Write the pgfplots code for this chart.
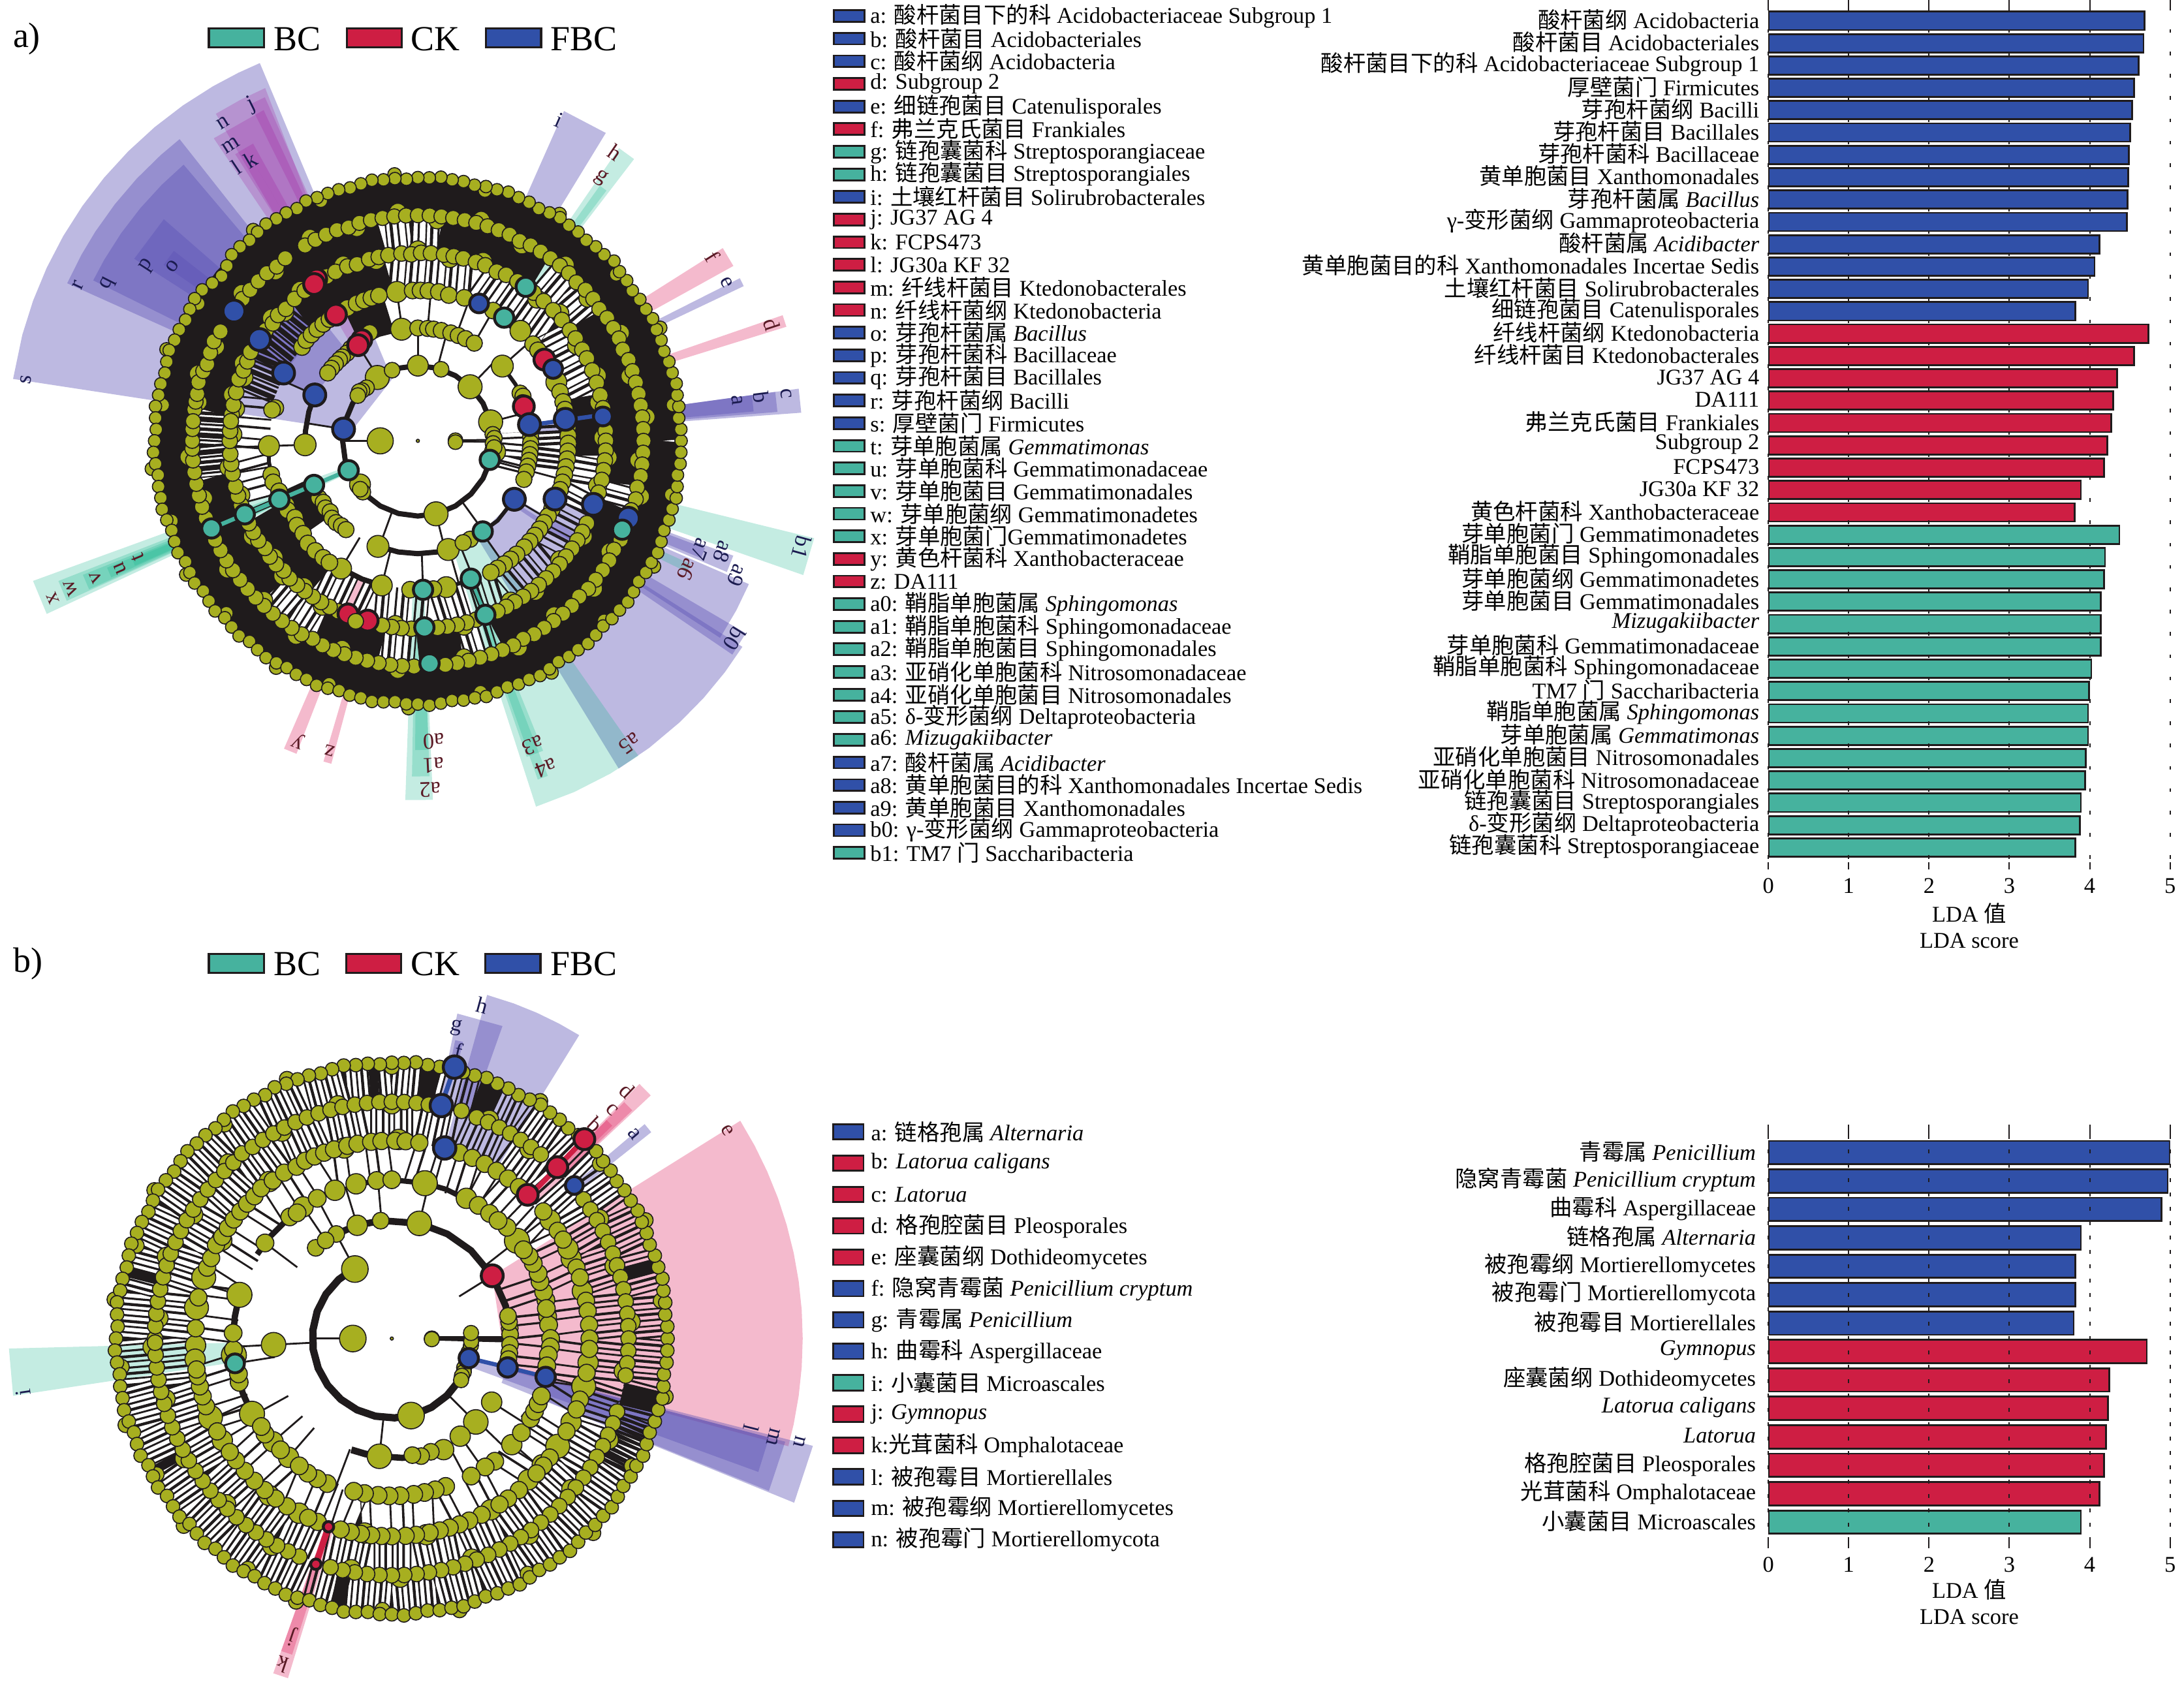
\documentclass[border=0pt]{standalone}
\usepackage{fontspec}
\setmainfont{Liberation Serif}
\newfontfamily\cjk{Noto Sans CJK SC}
\usepackage{pgfplots}
\usepackage{pgfplotstable}
\pgfplotsset{compat=1.18}

\definecolor{bcgreen}{HTML}{46B29E}
\definecolor{ckred}{HTML}{CE1E43}
\definecolor{fbcblue}{HTML}{3050A8}
\definecolor{olivenode}{HTML}{A7AF20}
\definecolor{darkline}{HTML}{1F1B1C}
\definecolor{fanB}{HTML}{5A50B4}
\definecolor{fanR}{HTML}{DC1C5A}
\definecolor{fanT}{HTML}{13B38B}
\definecolor{fanP}{HTML}{A020A0}
\definecolor{labR}{HTML}{5A1A25}
\definecolor{labB}{HTML}{1B1B50}

\newcommand\zh[1]{{\cjk #1}}
\newcommand\fs{\fontsize{8.6}{10}\selectfont}

% LDA bars, panel a
\pgfplotstableread{
idx val
0 4.68
1 4.67
2 4.61
3 4.55
4 4.53
5 4.50
6 4.49
7 4.48
8 4.47
9 4.46
10 4.12
11 4.06
12 3.98
13 3.82
}\barsAblue
\pgfplotstableread{
idx val
14 4.73
15 4.55
16 4.34
17 4.29
18 4.27
19 4.22
20 4.18
21 3.89
22 3.81
}\barsAred
\pgfplotstableread{
idx val
23 4.37
24 4.19
25 4.18
26 4.14
27 4.14
28 4.14
29 4.02
30 3.99
31 3.98
32 3.98
33 3.95
34 3.94
35 3.89
36 3.88
37 3.82
}\barsAgreen
% LDA bars, panel b
\pgfplotstableread{
idx val
0 5.00
1 4.97
2 4.89
3 3.89
4 3.82
5 3.82
6 3.80
}\barsBblue
\pgfplotstableread{
idx val
7 4.71
8 4.24
9 4.23
10 4.20
11 4.18
12 4.12
}\barsBred
\pgfplotstableread{
idx val
13 3.89
}\barsBgreen

\pgfplotsset{
  lda/.style={
    scale only axis, anchor=north west, xmin=0, xmax=5, y dir=reverse,
    xbar, bar shift=0pt, axis on top,
    axis line style={draw=none},
    xtick={0,1,2,3,4,5}, xtick pos=both, xticklabel pos=bottom, tick align=outside,
    major tick length=2.7pt,
    xtick style={draw=darkline,line width=.5pt,solid},
    ytick style={draw=none},
    xmajorgrids,
    /pgf/number format/assume math mode=true,
    tick label style={font=\fs},
    y tick label style={inner sep=0pt,xshift=-.6pt,yshift=.4pt},
    label style={font=\fs,align=center},
  },
  ldabar/.style={draw=darkline,line width=.7pt,fill=#1},
  clad/.style={
    hide axis, scale only axis, clip=false, anchor=center,
    width=352.1pt, height=352.1pt, xmin=-330, xmax=330, ymin=-330, ymax=330,
    every axis plot/.append style={data cs=polar},
  },
  fB/.style={draw=none,fill=fanB,fill opacity=.4},
  fR/.style={draw=none,fill=fanR,fill opacity=.3},
  fT/.style={draw=none,fill=fanT,fill opacity=.25},
  fP/.style={draw=none,fill=fanP,fill opacity=.25},
  solidband/.style={draw=darkline,line width=14.4pt},
  denseband/.style={draw=darkline,line width=14.4pt,dash pattern=on 1.3pt off .7pt on 2pt off .5pt on .8pt off .8pt},
  sparseband/.style={draw=darkline,line width=14.4pt,dash pattern=on .8pt off 1.6pt on 1.2pt off 1.2pt on .6pt off 2.2pt},
  thinband/.style={draw=darkline,line width=14.4pt,dash pattern=on .7pt off 2.6pt on .9pt off 3.6pt},
}
% filled wedge
\newcommand\fan[5]{\addplot[#1] coordinates {(#2,#5)(#3,#5)(#3,#4)(#2,#4)};}
% one branch
\newcommand\spk[3]{\addplot[draw=darkline,line width=.7pt] coordinates {(#1,#2)(#1,#3)};}
% olive nodes
\newcommand\nodes[2]{\addplot[only marks,mark=*,mark size=#1,mark options={fill=olivenode,draw=darkline,line width=.4pt}] coordinates {#2};}
% biomarker nodes
\newcommand\hit[3]{\addplot[only marks,mark=*,mark size=#2,mark options={fill=#1,draw=darkline,line width=1.1pt}] coordinates {#3};}
% rotated letter
\newcommand\lab[4][black]{\node[font=\fs,text=#1,rotate={#2-90},inner sep=0pt] at ([shift={(#2:{#3*0.53348pt})}]axis cs:0,0) {#4};}

\begin{document}
\begin{tikzpicture}
\useasboundingbox (0,0) rectangle (836.5pt,-644.75pt);

%%% cladogram a
\begin{axis}[clad,at={(160.04pt,-168.85pt)}]
\addplot[fB] coordinates {(112.7,294)(116,294)(120,294)(125,294)(130,294)(135,294)(140,294)(145,294)(150,294)(155,294)(160,294)(165,294)(171.3,294)(171.3,48)(112.7,48)};
\addplot[fB] coordinates {(128.3,276)(132,276)(137,276)(142,276)(147,276)(151,276)(155.8,276)(155.8,81)(128.3,81)};
\addplot[fB] coordinates {(130.3,260)(135,260)(140,260)(145,260)(150,260)(153.7,260)(153.7,108)(130.3,108)};
\fan{fB}{138.9}{147.3}{135}{242}
\fan{fB}{142.1}{145.3}{162}{222}
\addplot[fP] coordinates {(113.4,276)(117.5,276)(121.7,276)(125,81)(119,81)};
\fan{fP}{115}{124}{108}{262}
\fan{fP}{114}{116.5}{108}{270}
\fan{fP}{120.5}{122.5}{135}{244}
\fan{fP}{119}{120.5}{135}{244}
\fan{fB}{58.6}{66.1}{135}{259}
\fan{fT}{52.5}{55.5}{135}{255}
\fan{fT}{53}{54.5}{162}{225}
\fan{fR}{29}{32.3}{162}{259}
\fan{fB}{25.4}{26.8}{162}{259}
\fan{fR}{17.2}{19}{189}{277}
\fan{fB}{4.2}{7.8}{81}{276}
\fan{fB}{4.6}{7.8}{108}{259}
\fan{fB}{5}{7.8}{135}{242}
\fan{fT}{-19.2}{-13.8}{162}{293}
\addplot[fB] coordinates {(-23.4,259)(-28,259)(-33.1,259)(-33.1,108)(-23.4,108)};
\fan{fB}{-34.2}{-30.4}{81}{273}
\addplot[fB] coordinates {(-32.4,276)(-37,276)(-42,276)(-47,276)(-53,276)(-58.5,276)(-58.5,81)(-32.4,81)};
\addplot[fT] coordinates {(-55,276)(-60,276)(-66,276)(-72.1,276)(-72.1,81)(-55,81)};
\fan{fT}{-70.5}{-68.8}{108}{258}
\fan{fT}{-71}{-68}{135}{240}
\fan{fT}{-92}{-87.6}{108}{258}
\fan{fT}{-91}{-88}{135}{241}
\fan{fT}{-90.5}{-88}{162}{222}
\fan{fR}{-106.4}{-105}{189}{240}
\fan{fR}{-113.5}{-111.2}{108}{241}
\fan{fB}{-23}{-20}{135}{241}
\fan{fB}{-22.5}{-20.5}{162}{220}
\fan{fT}{-26}{-24.3}{162}{215}
\fan{fT}{-160}{-155}{54}{294}
\fan{fT}{-158.7}{-155.5}{81}{277}
\fan{fT}{-158.2}{-155.7}{108}{259}
\fan{fT}{-157.8}{-156}{135}{241}
\fan{fT}{-157.5}{-156.2}{162}{222}

% dense rings of branches
\addplot[solidband] coordinates {(0,175.5)(10,175.5)(20,175.5)(30,175.5)(40,175.5)(50,175.5)(60,175.5)(70,175.5)(80,175.5)(90,175.5)(100,175.5)(110,175.5)(120,175.5)(130,175.5)(140,175.5)(150,175.5)(160,175.5)(170,175.5)(180,175.5)(190,175.5)(200,175.5)(210,175.5)(220,175.5)(230,175.5)(240,175.5)(250,175.5)(260,175.5)(270,175.5)(280,175.5)(290,175.5)(300,175.5)(310,175.5)(320,175.5)(330,175.5)(340,175.5)(350,175.5)(360,175.5)};
\addplot[solidband] coordinates {(54,148.5)(64,148.5)(74,148.5)(84,148.5)};
\addplot[solidband] coordinates {(100,148.5)(112,148.5)(124,148.5)(136,148.5)(148,148.5)(160,148.5)(172,148.5)};
\addplot[solidband] coordinates {(190,148.5)(202,148.5)(214,148.5)(226,148.5)};
\addplot[solidband] coordinates {(242,148.5)(251,148.5)(260,148.5)};
\addplot[solidband] coordinates {(270,148.5)(282,148.5)};
\addplot[solidband] coordinates {(292,148.5)(304,148.5)(316,148.5)(330,148.5)(342,148.5)};
\addplot[solidband] coordinates {(348,148.5)(360,148.5)(372,148.5)(384,148.5)(396,148.5)};
\addplot[sparseband] coordinates {(36,148.5)(45,148.5)(54,148.5)};
\addplot[sparseband] coordinates {(84,148.5)(92,148.5)(100,148.5)};
\addplot[denseband] coordinates {(172,148.5)(181,148.5)(190,148.5)};
\addplot[sparseband] coordinates {(226,148.5)(234,148.5)(242,148.5)};
\addplot[sparseband] coordinates {(260,148.5)(270,148.5)};
\addplot[sparseband] coordinates {(282,148.5)(292,148.5)};
\addplot[sparseband] coordinates {(342,148.5)(348,148.5)};
\addplot[solidband] coordinates {(100,121.5)(111,121.5)(122,121.5)(133,121.5)};
\addplot[denseband] coordinates {(133,121.5)(150,121.5)(165,121.5)};
\addplot[thinband] coordinates {(165,121.5)(185,121.5)(205,121.5)};
\addplot[solidband] coordinates {(205,121.5)(215,121.5)(225,121.5)(235,121.5)};
\addplot[sparseband] coordinates {(235,121.5)(255,121.5)(275,121.5)(300,121.5)(320,121.5)(345,121.5)(355,121.5)};
\addplot[solidband] coordinates {(-5,121.5)(5,121.5)(15,121.5)};
\addplot[sparseband] coordinates {(15,121.5)(40,121.5)(70,121.5)(100,121.5)};
\addplot[draw=darkline,line width=14.4pt] coordinates {(103,94.5)(111,94.5)(120,94.5)};
\addplot[draw=darkline,line width=14.4pt] coordinates {(200,94.5)(210,94.5)(220,94.5)};
\addplot[draw=darkline,line width=14.4pt,dash pattern=on 1.2pt off 1pt] coordinates {(-12,94.5)(-2,94.5)(8,94.5)};
\addplot[draw=darkline,line width=14.4pt,dash pattern=on .8pt off 1.6pt] coordinates {(-18,67.5)(-10,67.5)(0,67.5)(5,67.5)};

% thick arcs between siblings
\addplot[draw=darkline,line width=2pt] coordinates {(0,54)(15,54)(30,54)(45,54)(60,54)(75,54)(90,54)(105,54)(120,54)(135,54)(150,54)(165,54)(180,54)(195,54)(210,54)(225,54)(240,54)(255,54)(270,54)(285,54)(300,54)(315,54)(330,54)(345,54)(360,54)};
\addplot[draw=darkline,line width=2pt] coordinates {(156,81)(165,81)(175,81)(182,81)};
\addplot[draw=darkline,line width=2pt] coordinates {(-110.7,81)(-100,81)(-90,81)(-80,81)(-74,81)};
\addplot[draw=darkline,line width=2pt] coordinates {(-121,107)(-112,107)(-104,107)};
\addplot[draw=darkline,line width=1.5pt] coordinates {(-54,80)(-45,81)(-31,81)};
\addplot[draw=darkline,line width=1.5pt] coordinates {(-79,107)(-69,107)};
\addplot[draw=darkline,line width=1.5pt] coordinates {(98,81)(110,81)(122,81)};
\addplot[draw=darkline,line width=1.5pt] coordinates {(41.5,81)(30,81)(20,81)};
\addplot[draw=darkline,line width=1.5pt] coordinates {(-178,107)(-172,108)(-165,108)};
\addplot[draw=darkline,line width=2.4pt] coordinates {(-157,108)(-157,135)(-157,161)};
\addplot[draw=bcgreen,line width=1.6pt] coordinates {(-157,54)(-157,161)};
\addplot[draw=fbcblue,line width=1.6pt] coordinates {(8,81)(8,134)};
\addplot[draw=darkline,line width=2.4pt] coordinates {(-69,106)(-68.8,134)};
\addplot[draw=bcgreen,line width=1.2pt] coordinates {(-69,106)(-68.8,134)};
\spk{180}{27}{54}\spk{0.8}{27}{60}\spk{-0.8}{27}{60}
\spk{171}{54}{81}\spk{90}{54}{81}\spk{75}{54}{81}\spk{122}{54}{81}\spk{46}{54}{81}
\spk{14.6}{54}{81}\spk{-15}{54}{108}\spk{-76}{54}{81}\spk{-54}{54}{80}\spk{-110}{54}{81}
\spk{156}{81}{108}\spk{-178}{81}{108}\spk{98}{81}{108}\spk{85}{81}{108}\spk{70}{81}{108}
\spk{60}{81}{108}\spk{41.5}{81}{108}\spk{-31}{81}{107}\spk{-74}{81}{107}\spk{-88}{81}{107}
\spk{-121}{81}{107}\spk{-104}{81}{107}\spk{153}{108}{135}\spk{147}{135}{162}\spk{-178}{108}{135}
\spk{-170}{108}{135}\spk{-68}{81}{106}\spk{-55}{81}{108}\spk{-23}{107}{134}\spk{-20}{134}{161}

\nodes{5}{(180,27)}
\nodes{2.8}{(1,27)(-2,27)}
\nodes{4.6}{(122.6,54)(46,54)(14.6,54)(-76,54)}
\nodes{4}{(90,54)(-143,52)(-8,56)}
\nodes{3}{(72,54)(110,54)(134,53)(138,54)(140,55)(143,54)(-137,54)(-140,54)(5,54)(2,55)(-2,54)(-5,55)}
\nodes{4.2}{(-178,81)(-110.7,81)(-74.4,81)(41.5,81)(98.3,81)}
\nodes{3.1}{(90,81)(85,81)(82,81)(78,81)(73,81)(69,81)(65,81)(60,81)(25,81)(23,82)(20,80)(5,81)(2,81)(-1,81)(-4,81)(-7,81)(-10,81)(-13,81)(-16,81)(-20,81)(114,85)(118,83)(126,82)(129,81)(132,81)(134,81)(137,81)(140,81)(143,81)(-150,82)(-147,81)(-144,82)(-141,81)(-138,83)(-135,83)(-132,82)(-129,82)(-62,80)(-66,80)}
\nodes{4}{(-178,107)(-121,107)(-104,107)(-79,107)(98,108)(23,108)(47,108)}
\nodes{3.2}{(167,105)(168,107)(141,107)(138,108)(135,108)(132,108)(129,108)(126,108)(118,108)(114,108)(111,108)(108,108)(105,108)(92,108)(89,108)(86,108)(82,108)(78,107)(72,108)(60,108)(40,108)(37,108)(19,108)(15,108)(12,108)(5,108)(2,108)(-1,108)(-4,108)(-7,108)(-10,108)(-13,108)(-16,108)(-19,108)(-27,108)(-30,108)(-33,108)(-36,108)(-39,108)(-42,108)(-45,108)(-49,108)(-52,108)(-55,108)(-58,108)(-61,108)(-93,107)(-84,107)(-167,108)(-164,108)(-160,106)(-154,105)(-152,106)(-148,104)(-145,106)(-141,106)(-137,108)(-133,108)(-129,108)(-126,108)}
\nodes{3.5}{(170,133)(166,137)(160,133)(156,137)(140,137)(136,133)(128,137)(113,137)(103,133)(90,137)(80,133)(70,137)(50,133)(42,137)(31,133)(20,137)(12,133)(1,133)(-5,137)(-14,133)(-30,137)(-40,133)(-52,137)(-60,133)(-76,137)(-97,133)(-120,137)(-128,133)(-135,137)(-141,133)(-150,137)(-163,133)(-172,137)(178,133)}
\nodes{3}{(172,135)(169,135)(165,135)(161,136)(158,135)(155,135)(152,136)(144,135)(141,134)(138,135)(135,134)(131,135)(127,135)(119,135)(116,135)(112,135)(109,134)(105,135)(102,135)(99,135)(95,135)(92,134)(89,135)(86,135)(82,135)(79,135)(76,135)(72,135)(69,135)(65,134)(62,135)(58,135)(52,135)(48,135)(44,135)(40,135)(36,135)(33,135)(29,135)(26,135)(22,135)(18,135)(14,135)(10,135)(3,135)(0,135)(-3,135)(-6,135)(-9,135)(-12,135)(-16,135)(-26,135)(-29,135)(-32,135)(-35,135)(-38,135)(-41,135)(-44,135)(-47,135)(-50,135)(-53,135)(-56,135)(-59,135)(-62,135)(-65,135)(-72,135)(-75,135)(-78,135)(-81,135)(-84,135)(-92,135)(-95,135)(-98,135)(-101,135)(-108,135)(-115,135)(-118,135)(-121,135)(-124,135)(-127,135)(-130,135)(-133,135)(-136,134)(-139,135)(-142,135)(-145,134)(-148,135)(-151,135)(-154,135)(-160,135)(-163,135)(-166,135)(-170,135)(-173,135)(-176,135)(-180,135)(177,135)(174,135)}
\nodes{3.3}{(170,160)(163,165)(155,160)(140,165)(130,159)(118,165)(106,159)(95,165)(85,159)(74,165)(62,159)(50,165)(40,159)(28,165)(17,159)(6,165)(-5,159)(-14,165)(-30,159)(-40,165)(-52,159)(-64,165)(-78,159)(-95,165)(-110,159)(-122,165)(-134,159)(-146,165)(-165,159)(-176,165)}
\nodes{2.9}{(172,162)(170,162)(168,162)(165,163)(162,162)(160,161)(157,162)(154,163)(151,162)(141,162)(138,162)(135,162)(132,162)(129,161)(126,162)(120,162)(117,162)(114,162)(111,162)(108,161)(105,162)(102,162)(99,162)(96,162)(93,162)(90,162)(87,162)(84,162)(81,162)(78,162)(75,162)(72,162)(69,162)(66,162)(63,161)(60,162)(57,162)(54,162)(51,162)(48,162)(45,161)(42,162)(39,162)(36,161)(33,162)(30,162)(27,162)(24,161)(21,162)(18,162)(15,162)(12,162)(9,162)(6,162)(3,162)(0,162)(-3,162)(-6,162)(-9,162)(-12,161)(-15,162)(-18,161)(-26,162)(-29,161)(-32,162)(-35,162)(-38,162)(-41,162)(-44,161)(-47,162)(-50,162)(-53,162)(-56,162)(-59,162)(-62,161)(-65,162)(-68,162)(-71,162)(-74,162)(-77,162)(-80,162)(-83,162)(-91,162)(-94,162)(-97,162)(-100,162)(-103,162)(-106,162)(-109,162)(-112,162)(-115,162)(-118,161)(-121,162)(-124,162)(-127,162)(-130,162)(-133,162)(-136,162)(-139,162)(-142,162)(-145,162)(-148,162)(-151,162)(-154,162)(-160,162)(-163,162)(-166,162)(-169,162)(-172,162)(-175,162)(-178,162)(180,162)(177,162)(175,162)}
\nodes{2.6}{(8,185)(25,192)(40,186)(58,192)(75,186)(95,192)(112,186)(128,192)(148,186)(160,192)(172,185)(186,192)(198,186)(210,192)(222,185)(238,192)(250,186)(268,192)(284,186)(300,192)(316,186)(332,192)(348,186)}
\nodes{2.4}{(0,189)(2.5,189)(5,188)(7.5,189)(10,189)(12.5,190)(15,189)(17.5,189)(20,188)(22.5,189)(25,189)(27.5,190)(30,189)(32.5,189)(35,188)(37.5,189)(40,189)(42.5,191)(45,189)(47.5,189)(50,188)(52.5,189)(55,189)(57.5,190)(60,189)(62.5,188)(65,189)(67.5,189)(70,190)(72.5,189)(75,189)(77.5,188)(80,189)(82.5,189)(85,190)(87.5,189)(90,189)(92.5,188)(95,189)(97.5,189)(100,190)(102.5,189)(105,188)(107.5,189)(110,189)(112.5,189)(115,190)(117.5,188)(120,189)(122.5,189)(125,190)(127.5,189)(130,188)(132.5,189)(135,189)(137.5,186)(140,184)(142.5,186)(145,189)(147.5,190)(150,189)(152.5,188)(155,189)(157.5,189)(160,190)(162.5,189)(165,188)(167.5,189)(170,189)(172.5,190)(175,189)(177.5,188)(180,189)(182.5,190)(185,189)(187.5,188)(190,189)(192.5,189)(195,190)(197.5,189)(200,188)(202.5,189)(205,190)(207.5,188)(210,189)(212.5,190)(215,188)(217.5,189)(220,190)(222.5,188)(225,189)(227.5,190)(230,188)(232.5,189)(235,190)(237.5,189)(240,188)(242.5,189)(245,189)(247.5,190)(250,189)(252.5,188)(255,189)(257.5,189)(260,190)(262.5,189)(265,188)(267.5,189)(270,189)(272.5,190)(275,189)(277.5,188)(280,189)(282.5,189)(285,190)(287.5,189)(290,188)(292.5,189)(295,189)(297.5,190)(300,189)(302.5,188)(305,189)(307.5,189)(310,190)(312.5,189)(315,188)(317.5,189)(320,189)(322.5,190)(325,189)(327.5,188)(330,189)(332.5,189)(335,190)(337.5,189)(340,188)(342.5,189)(345,189)(347.5,190)(350,189)(352.5,188)(355,189)(357.5,189)}
\nodes{0.6}{(0,0)}

\hit{ckred}{3.8}{(122,137)(119,83)(-112,134)}
\hit{ckred}{4}{(123.5,135)(123,108)(122,81)(32.7,108)(18,80)(-105.6,134)}
\nodes{3}{(-109,137)}
\hit{fbcblue}{3.6}{(28,110)(66,108)(7.5,134)}
\hit{fbcblue}{4.2}{(171,54)(156,81)(153.2,108)(147.4,135)(144.8,161.6)(8.3,81)(8.3,107)(-31.2,81)(-23,107)(-19.9,134)(-20.2,161)}
\hit{bcgreen}{3.7}{(-14.8,53.4)(-157,54)(-157,81)(-157,108)(-157,135)(-157,161)(-54.4,80)(-69,106)(-68.8,134)(-88,107)(-88,134)(-87,160)(-23.5,160)(55,135)(55,108)}

\lab[labB]{171.1}{285}{s}\lab[labB]{155.4}{268.5}{r}\lab[labB]{153.1}{249.5}{q}\lab[labB]{147.1}{231.3}{p}\lab[labB]{144.6}{216.4}{o}
\lab[labB]{121.5}{267.7}{n}\lab[labB]{122.3}{251}{m}\lab[labB]{123.6}{236}{l}\lab[labB]{120.8}{234.7}{k}\lab[labB]{116.3}{269}{j}
\lab[labB]{66.3}{251.7}{i}\lab[labR]{55.6}{251}{h}\lab[labR]{55.2}{230.3}{g}\lab[labR]{32}{249.5}{f}\lab[labB]{27.2}{249.3}{e}\lab[labR]{18.2}{267.3}{d}
\lab[labB]{7.3}{266.6}{c}\lab[labB]{7.2}{248.3}{b}\lab[labB]{7.2}{231.2}{a}\lab[labB]{-15.5}{286}{b1}\lab[labB]{-22.9}{249}{a9}\lab[labB]{-20}{233.2}{a8}
\lab[labB]{-21}{217.4}{a7}\lab[labR]{-25.5}{214.6}{a6}\lab[labB]{-32}{268}{b0}\lab[labR]{-55}{265.4}{a5}\lab[labR]{-68.6}{252.3}{a4}\lab[labR]{-69.3}{233.7}{a3}
\lab[labR]{-88}{250.7}{a2}\lab[labR]{-87.3}{233.3}{a1}\lab[labR]{-87}{216}{a0}\lab[labR]{-105.9}{231.4}{z}\lab[labR]{-111.7}{232}{y}
\lab[labR]{-156.7}{285.5}{x}\lab[labR]{-157}{270.5}{w}\lab[labR]{-157}{251.3}{v}\lab[labR]{-156.9}{232.6}{u}\lab[labR]{-157.4}{217.8}{t}
\end{axis}

%%% cladogram b
\begin{axis}[clad,at={(150.07pt,-512.67pt)}]
\addplot[fR] coordinates {(32,295)(28,295)(24,295)(20,295)(16,295)(12,295)(8,295)(4,295)(0,295)(-4,295)(-8,295)(-12,295)(-15.2,295)(-15.2,85)(32,85)};
\fan{fT}{-178.5}{-171.4}{114}{275}
\addplot[fB] coordinates {(74.5,256)(70,256)(66,256)(62,256)(58.3,256)(58.3,142)(74.5,142)};
\fan{fB}{70.5}{78.6}{171}{238}
\fan{fB}{76.5}{78}{198}{219}
\fan{fR}{43.2}{45.8}{142}{255}
\fan{fR}{43.5}{45.5}{171}{238}
\fan{fR}{44}{45.5}{198}{220}
\fan{fB}{38.5}{40.3}{171}{238}
\fan{fB}{-22.2}{-14.3}{113}{312}
\fan{fB}{-22}{-14.7}{85}{292}
\fan{fB}{-20}{-14.7}{57}{280}
\fan{fR}{-109.5}{-107}{142}{255}
\fan{fR}{-109.5}{-107.5}{171}{238}

% spokes, outer rings
\addplot[draw=darkline,line width=14.9pt,dash pattern=on .8pt off 1.3pt on 1.1pt off 1.1pt on .7pt off 1.5pt] coordinates {(0,184)(10,184)(20,184)(30,184)(40,184)(50,184)(60,184)(70,184)(80,184)(90,184)(100,184)(110,184)(120,184)(130,184)(140,184)(150,184)(160,184)(170,184)(180,184)(190,184)(200,184)(210,184)(220,184)(230,184)(240,184)(250,184)(260,184)(270,184)(280,184)(290,184)(300,184)(310,184)(320,184)(330,184)(340,184)(350,184)(360,184)};
\addplot[draw=darkline,line width=14.9pt,dash pattern=on .8pt off 1.4pt on 1pt off 1.8pt on .7pt off 1.2pt] coordinates {(0,156)(12,156)(24,156)(36,156)(48,156)(60,156)(72,156)(84,156)(96,156)(108,156)(120,156)(132,156)(144,156)(156,156)(168,156)(180,156)(192,156)(204,156)(216,156)(228,156)(240,156)(252,156)(264,156)(276,156)(288,156)(300,156)(312,156)(324,156)(336,156)(348,156)(360,156)};
\addplot[draw=darkline,line width=14.9pt,dash pattern=on .7pt off 2.4pt on .9pt off 3pt on .7pt off 5pt] coordinates {(-15,128)(0,128)(15,128)(35,128)};
\addplot[draw=darkline,line width=14.9pt,dash pattern=on .7pt off 4pt on .9pt off 3pt on .7pt off 7pt] coordinates {(35,128)(60,128)(85,128)(110,128)(135,128)(160,128)(185,128)(210,128)(235,128)(260,128)(285,128)(310,128)(345,128)};
\addplot[draw=darkline,line width=14.9pt,dash pattern=on .8pt off 2.4pt on .9pt off 4pt] coordinates {(-12,99)(0,99)(12,99)(25,99)};
% solid wedges of closely packed branches
\addplot[draw=darkline,line width=14.9pt] coordinates {(93,184)(95,184)};
\addplot[draw=darkline,line width=14.9pt] coordinates {(80,184)(84,184)};
\addplot[draw=darkline,line width=14.9pt] coordinates {(66,184)(71,184)};
\addplot[draw=darkline,line width=14.9pt] coordinates {(-16,184)(-11,184)};
\addplot[draw=darkline,line width=14.9pt] coordinates {(-103,184)(-100,184)};
\addplot[draw=darkline,line width=14.9pt] coordinates {(-152,184)(-150,184)};
\addplot[draw=darkline,line width=14.9pt] coordinates {(165,184)(167,184)};
\addplot[draw=darkline,line width=14.9pt] coordinates {(14,184)(17,184)};
\addplot[draw=darkline,line width=14.9pt,dash pattern=on 1.2pt off .6pt] coordinates {(-30,184)(-25,184)(-18,184)};

% thick arcs
\addplot[draw=darkline,line width=2.8pt] coordinates {(118,57)(132,57)(146,57)(160,57)(174,57)(188,57)(202,57)(216,57)(230,57)(244,57)(258,57)(272,57)(286,57)(300,57)(314,57)(328,57)(346,57)};
\addplot[draw=darkline,line width=2.6pt] coordinates {(5,85)(16,85)(32,85)(48,85)(62,85)(76.6,85)(95,85)(107,85)(118,85)(130,85)};
\addplot[draw=darkline,line width=2.4pt] coordinates {(164,113.8)(172,113.8)(180,114)(189,114)(200,114)(208,114)(220,113)(229,113)};
\addplot[draw=darkline,line width=2.2pt] coordinates {(130,114)(140,114)(148,114)};
\addplot[draw=darkline,line width=2pt] coordinates {(57,114)(70,114)(78,114)(90,114)(103,114)};
\addplot[draw=darkline,line width=1.7pt] coordinates {(162,142)(171,142)(178,141)(186,141)};
\addplot[draw=darkline,line width=2.6pt] coordinates {(-96,85)(-103,85)(-110,85)};
\addplot[draw=darkline,line width=2.4pt] coordinates {(-96,85)(-85,86)(-75,87)(-65,88)};
\addplot[draw=fbcblue,line width=1.6pt] coordinates {(-14.3,57)(-14,85)(-14,114)};
\addplot[draw=ckred,line width=2.4pt] coordinates {(-108.6,142.6)(-108.6,171)};
\addplot[draw=ckred,line width=2pt] coordinates {(46,142)(46,199)};
\addplot[draw=fbcblue,line width=1.8pt] coordinates {(78,171)(77,200)};
\spk{180}{28}{57}\addplot[draw=darkline,line width=1.8pt] coordinates {(0,28)(0,85)};
\spk{-1.5}{28}{85}
\spk{-177}{57}{85}\spk{118}{57}{85}\spk{-96}{57}{85}\spk{-45}{57}{85}\spk{32}{57}{85}
\spk{76.6}{85}{114}\spk{95}{85}{114}\spk{107}{85}{114}\spk{118}{85}{114}\spk{38}{85}{114}\spk{-32.5}{85}{114}
\spk{-44}{85}{115}\spk{-55}{85}{113}\spk{-62}{85}{113}\spk{-14}{114}{142}\spk{74.5}{114}{142}\spk{62}{114}{142}
\spk{-177}{85}{114}\spk{-110.7}{85}{114}\spk{-171}{85}{114}\spk{-151}{85}{114}\spk{-139}{85}{113}\spk{-131}{85}{113}\spk{143}{85}{114}\spk{124}{85}{114}
\spk{164}{114}{142}\spk{-156}{114}{142}\spk{-149}{114}{142}\spk{38}{114}{142}\spk{46}{114}{142}\spk{-41}{115}{142}\spk{-33}{115}{142}\spk{-14}{142}{171}
\spk{-108}{114}{142}\spk{57}{114}{142}

\nodes{5.1}{(180,28)}
\nodes{2.9}{(0,28.7)(-1,28.7)}
\nodes{5.1}{(118,56.5)(-76,57)}
\nodes{2.9}{(-14,55)(-10,56)(-22,56)(-25,57)(-28,57)(-31,58)(-5,57)(-2,57)(4,57)}
\nodes{4.7}{(-177,85)(76.6,85)(-96,85)(-44.8,85)}
\nodes{3.9}{(107,85)(-32.5,85)(-55,85.6)(-65,88)}
\nodes{3.2}{(95.4,85)(118,85)(130,85)(124,85)(-71,86)(-76,87)(-80,85)(5,85)(2,85)(8,85)(11,85)(-3,85)(-7,85)(-10,85)}
\nodes{4.8}{(164,113.8)(-151.7,114)(78,114)(38,114)(-174,114)}
\nodes{3.9}{(103,114)(62,114)(-139,113)(-41.5,115)(-131,113)(111,114)(124,114)}
\nodes{3.4}{(143,114)(95.5,114)(90,114)(118,114)(130,114)(127,113)(57,114)(52,114)(-164,114)(-167,113)(-176,114)(178,114)(-36,115)(-30,115)(-27,115)(-24,115)(-21,115)(-50,115)(-54,114)(-60,114)(-70,113)(-74,113)(-78,113)(-82,113)(-87,113)(-91,113)(-95,113)(-100,113)(-104,113)(-114,114)(-118,114)(-122,114)(-126,113)(-135,113)(-143,114)(-146,113)(8,113)(5,113)(0,114)(14,114)(17,114)(21,114)(24,115)(28,115)(-3,114)(-6,113)(-10,113)(11,113)(31,115)(34,114)(44,115)(48,114)}
\nodes{4.6}{(171,142)(-156.5,142)(-33,142)(-14,142)(162,142)}
\nodes{3.9}{(-149,142)(-178,141)(-174,142)(36.8,142)(-118,142)(-60,142)(-46,141)(-25,142)(24,141)(27,142)(14,141)(-7,142)(150,141)(128,143)(104,141)(88,143)(-40,141)(-80,143)(-98,141)(-128,143)}
\nodes{3.3}{(177,141)(168,142)(159,142)(156,142)(152,143)(149,142)(146,142)(143,142)(140,142)(137,142)(134,142)(131,143)(127,142)(123,142)(119,141)(116,142)(113,142)(110,142)(107,142)(103,142)(100,142)(96,142)(93,142)(89,142)(86,142)(82,142)(70,142)(66,142)(62,142)(58,142)(54,142)(50,142)(40,142)(33,142)(30,142)(21,142)(18,142)(11,142)(8,142)(4,142)(0,142)(-3,142)(-10,142)(-18,142)(-21,142)(-28,142)(-37,142)(-40,142)(-43,142)(-50,142)(-54,142)(-57,142)(-63,142)(-67,142)(-70,142)(-73,142)(-76,142)(-79,142)(-83,142)(-86,142)(-90,142)(-93,142)(-96,142)(-99,142)(-102,142)(-105,142)(-112,142)(-115,142)(-122,142)(-126,142)(-130,142)(-134,142)(-138,142)(-142,142)(-145,142)(-152,142)(-160,142)(-163,142)(-166,142)(-169,142)(-171,142)}
\nodes{3.6}{(175,168)(160,172)(148,168)(133,172)(118,168)(103,172)(90,168)(66,172)(54,168)(30,172)(18,168)(4,172)(-8,168)(-25,172)(-40,168)(-55,172)(-70,168)(-88,172)(-100,168)(-120,172)(-135,168)(-150,172)(-165,168)(-178,172)}
\nodes{3}{(180,170)(177,170)(174,170)(171,170)(168,170)(165,170)(162,170)(159,170)(156,170)(153,170)(150,170)(147,170)(144,170)(141,170)(138,170)(135,170)(132,170)(129,171)(126,170)(123,170)(120,170)(117,170)(114,170)(111,170)(108,170)(105,170)(102,170)(99,170)(96,170)(93,170)(90,170)(87,170)(84,170)(81,170)(73,171)(69,170)(66,170)(63,170)(60,170)(57,170)(54,170)(51,170)(36,170)(33,170)(30,170)(27,170)(24,170)(21,170)(18,170)(15,170)(12,170)(9,170)(6,170)(3,170)(0,170)(-3,170)(-6,170)(-9,170)(-18,170)(-21,170)(-24,170)(-27,170)(-30,170)(-33,170)(-36,170)(-39,170)(-42,170)(-45,170)(-48,170)(-51,170)(-54,170)(-57,170)(-60,170)(-63,170)(-66,170)(-69,170)(-72,170)(-75,170)(-78,170)(-81,170)(-84,170)(-87,170)(-90,170)(-93,170)(-96,170)(-99,170)(-102,170)(-105,170)(-113,170)(-116,170)(-119,170)(-122,170)(-125,170)(-128,170)(-131,170)(-134,170)(-137,170)(-140,170)(-143,170)(-146,170)(-149,170)(-152,170)(-155,170)(-158,170)(-161,170)(-164,170)(-167,170)(-170,170)(-173,170)(-176,170)(-179,170)}
\nodes{2.9}{(8,195)(25,201)(40,195)(58,201)(90,195)(112,201)(128,195)(148,201)(160,195)(172,201)(186,195)(198,201)(210,195)(222,201)(238,195)(250,201)(268,195)(284,201)(300,195)(316,201)(332,195)(348,201)}
\nodes{2.6}{(0,198)(2.5,198)(5,197)(7.5,198)(10,198)(12.5,199)(15,198)(17.5,198)(20,197)(22.5,198)(25,198)(27.5,199)(30,198)(32.5,198)(35,197)(37.5,198)(40,198)(42.5,199)(45,198)(47.5,198)(50,197)(52.5,198)(55,198)(57.5,199)(60,198)(62.5,197)(65,198)(67.5,198)(70,199)(72.5,198)(75,198)(80,198)(82.5,198)(85,199)(87.5,198)(90,198)(92.5,197)(95,198)(97.5,198)(100,199)(102.5,198)(105,197)(107.5,198)(110,198)(112.5,198)(115,199)(117.5,197)(120,198)(122.5,198)(125,199)(127.5,198)(130,197)(132.5,198)(135,198)(137.5,199)(140,198)(142.5,197)(145,198)(147.5,199)(150,198)(152.5,197)(155,198)(157.5,198)(160,199)(162.5,198)(165,197)(167.5,198)(170,198)(172.5,199)(175,198)(177.5,197)(180,198)(182.5,199)(185,198)(187.5,197)(190,198)(192.5,198)(195,199)(197.5,198)(200,197)(202.5,198)(205,199)(207.5,197)(210,198)(212.5,199)(215,197)(217.5,198)(220,199)(222.5,197)(225,198)(227.5,199)(230,197)(232.5,198)(235,199)(237.5,198)(240,197)(242.5,198)(245,198)(247.5,199)(250,198)(252.5,197)(255,198)(257.5,198)(260,199)(262.5,198)(265,197)(267.5,198)(270,198)(272.5,199)(275,198)(277.5,197)(280,198)(282.5,198)(285,199)(287.5,198)(290,197)(292.5,198)(295,198)(297.5,199)(300,198)(302.5,197)(305,198)(307.5,198)(310,199)(312.5,198)(315,197)(317.5,198)(320,198)(322.5,199)(325,198)(327.5,197)(330,198)(332.5,198)(335,199)(337.5,198)(340,197)(342.5,198)(345,198)(347.5,199)(350,198)(352.5,197)(355,198)(357.5,198)}
\nodes{0.6}{(0,0)}

\hit{ckred}{4.2}{(32,85)}
\hit{ckred}{4}{(46.6,142)(46,171)(46,199)}
\hit{ckred}{2}{(-108.6,142.6)(-108.6,171)}
\hit{fbcblue}{3.7}{(-14.3,57)(-14,85.7)(-14,113.8)}
\hit{fbcblue}{3.4}{(40,171)}
\hit{fbcblue}{4.3}{(77,200)(78,171)(74.5,142)}
\hit{bcgreen}{3.6}{(-171,114)}

\lab[labB]{40.2}{227.6}{a}\lab[labR]{46.4}{212}{b}\lab[labR]{46.2}{228}{c}\lab[labR]{46.5}{245.6}{d}\lab[labR]{31.8}{283.6}{e}
\lab[labB]{76.9}{212}{f}\lab[labB]{78.3}{228}{g}\lab[labB]{74.8}{248}{h}\lab[labB]{-171.7}{267.4}{i}\lab[labR]{-108.5}{225.7}{j}
\lab[labR]{-108.6}{247}{k}\lab[labB]{-14}{266}{l}\lab[labB]{-14.5}{283}{m}\lab[labB]{-14.2}{302}{n}
\end{axis}

%%% LDA bars a
\begin{axis}[lda,at={(677.3pt,-2.67pt)},width=153.85pt,height=327.56pt,
  ymin=-0.62,ymax=37.66,bar width=0.82,
  grid style={draw=darkline,line width=.5pt,dash pattern=on 1.4pt off 7.15pt},
  ytick={0,1,...,37},
  yticklabels={
    {\zh{酸杆菌纲} Acidobacteria},{\zh{酸杆菌目} Acidobacteriales},{\zh{酸杆菌目下的科} Acidobacteriaceae Subgroup 1},{\zh{厚壁菌门} Firmicutes},
    {\zh{芽孢杆菌纲} Bacilli},{\zh{芽孢杆菌目} Bacillales},{\zh{芽孢杆菌科} Bacillaceae},{\zh{黄单胞菌目} Xanthomonadales},
    {\zh{芽孢杆菌属} \textit{Bacillus}},{γ-\zh{变形菌纲} Gammaproteobacteria},{\zh{酸杆菌属} \textit{Acidibacter}},{\zh{黄单胞菌目的科} Xanthomonadales Incertae Sedis},
    {\zh{土壤红杆菌目} Solirubrobacterales},{\zh{细链孢菌目} Catenulisporales},{\zh{纤线杆菌纲} Ktedonobacteria},{\zh{纤线杆菌目} Ktedonobacterales},
    {JG37 AG 4},{DA111},{\zh{弗兰克氏菌目} Frankiales},{Subgroup 2},{FCPS473},{JG30a KF 32},{\zh{黄色杆菌科} Xanthobacteraceae},
    {\zh{芽单胞菌门} Gemmatimonadetes},{\zh{鞘脂单胞菌目} Sphingomonadales},{\zh{芽单胞菌纲} Gemmatimonadetes},{\zh{芽单胞菌目} Gemmatimonadales},
    {\textit{Mizugakiibacter}},{\zh{芽单胞菌科} Gemmatimonadaceae},{\zh{鞘脂单胞菌科} Sphingomonadaceae},{TM7 \zh{门} Saccharibacteria},
    {\zh{鞘脂单胞菌属} \textit{Sphingomonas}},{\zh{芽单胞菌属} \textit{Gemmatimonas}},{\zh{亚硝化单胞菌目} Nitrosomonadales},{\zh{亚硝化单胞菌科} Nitrosomonadaceae},
    {\zh{链孢囊菌目} Streptosporangiales},{δ-\zh{变形菌纲} Deltaproteobacteria},{\zh{链孢囊菌科} Streptosporangiaceae}},
  xlabel={LDA \zh{值}\\[0pt]LDA score},
  xlabel style={yshift=3.2pt},
]
\addplot[ldabar=fbcblue] table[x=val,y=idx]{\barsAblue};
\addplot[ldabar=ckred] table[x=val,y=idx]{\barsAred};
\addplot[ldabar=bcgreen] table[x=val,y=idx]{\barsAgreen};
\end{axis}

%%% LDA bars b
\begin{axis}[lda,at={(677.3pt,-434.79pt)},width=153.85pt,height=154.18pt,
  ymin=-0.61,ymax=13.55,bar width=0.82,major tick length=4pt,
  grid style={draw=darkline,line width=.5pt,dash pattern=on 1.4pt off 4.1pt},
  ytick={0,1,...,13},
  yticklabels={
    {\zh{青霉属} \textit{Penicillium}},{\zh{隐窝青霉菌} \textit{Penicillium cryptum}},{\zh{曲霉科} Aspergillaceae},{\zh{链格孢属} \textit{Alternaria}},
    {\zh{被孢霉纲} Mortierellomycetes},{\zh{被孢霉门} Mortierellomycota},{\zh{被孢霉目} Mortierellales},{\textit{Gymnopus}},
    {\zh{座囊菌纲} Dothideomycetes},{\textit{Latorua caligans}},{\textit{Latorua}},{\zh{格孢腔菌目} Pleosporales},{\zh{光茸菌科} Omphalotaceae},{\zh{小囊菌目} Microascales}},
  xlabel={LDA \zh{值}\\[0pt]LDA score},
  xlabel style={yshift=4.3pt},
]
\addplot[ldabar=fbcblue] table[x=val,y=idx]{\barsBblue};
\addplot[ldabar=ckred] table[x=val,y=idx]{\barsBred};
\addplot[ldabar=bcgreen] table[x=val,y=idx]{\barsBgreen};
\end{axis}

%%% legends and panel letters, in the reference's layout
\begin{scope}[x=0.53348pt,y=-0.53348pt]
\newcommand\swatch[4]{\draw[fill=#1,draw=darkline,line width=.7pt] (#2,#3-#4) rectangle (#2+22,#3+#4);}
\newcommand\lgA[3]{\swatch{#1}{598.5}{#2}{4.2}\node[font=\fs,anchor=west,inner sep=0pt] at (624.5,#2) {#3};}
\newcommand\lgB[3]{\swatch{#1}{598}{#2}{5.5}\node[font=\fs,anchor=west,inner sep=0pt] at (625,#2) {#3};}
\newcommand\bigkey[3]{\draw[fill=#1,draw=darkline,line width=.8pt] (#2,#3-6.8) rectangle (#2+39.5,#3+6.8);}
\newcommand\bigtxt[3]{\node[font=\fontsize{13.5}{15}\selectfont,anchor=west,inner sep=0pt] at (#1,#2) {#3};}

\bigtxt{9}{28}{a)}
\bigkey{bcgreen}{150}{27}\bigtxt{196}{28}{BC}
\bigkey{ckred}{249}{27}\bigtxt{294.5}{28}{CK}
\bigkey{fbcblue}{349}{27}\bigtxt{395}{28}{FBC}
\bigtxt{9}{692}{b)}
\bigkey{bcgreen}{150}{691.8}\bigtxt{196}{692}{BC}
\bigkey{ckred}{248.6}{691.8}\bigtxt{294.5}{692}{CK}
\bigkey{fbcblue}{348.5}{691.8}\bigtxt{394.7}{692}{FBC}

\lgA{fbcblue}{11.5}{a: \zh{酸杆菌目下的科} Acidobacteriaceae Subgroup 1}
\lgA{fbcblue}{27.7}{b: \zh{酸杆菌目} Acidobacteriales}
\lgA{fbcblue}{44}{c: \zh{酸杆菌纲} Acidobacteria}
\lgA{ckred}{60.2}{d: Subgroup 2}
\lgA{fbcblue}{76.5}{e: \zh{细链孢菌目} Catenulisporales}
\lgA{ckred}{92.7}{f: \zh{弗兰克氏菌目} Frankiales}
\lgA{bcgreen}{108.9}{g: \zh{链孢囊菌科} Streptosporangiaceae}
\lgA{bcgreen}{125.2}{h: \zh{链孢囊菌目} Streptosporangiales}
\lgA{fbcblue}{141.4}{i: \zh{土壤红杆菌目} Solirubrobacterales}
\lgA{ckred}{157.7}{j: JG37 AG 4}
\lgA{ckred}{173.9}{k: FCPS473}
\lgA{ckred}{190.1}{l: JG30a KF 32}
\lgA{ckred}{206.4}{m: \zh{纤线杆菌目} Ktedonobacterales}
\lgA{ckred}{222.6}{n: \zh{纤线杆菌纲} Ktedonobacteria}
\lgA{fbcblue}{238.9}{o: \zh{芽孢杆菌属} \textit{Bacillus}}
\lgA{fbcblue}{255.1}{p: \zh{芽孢杆菌科} Bacillaceae}
\lgA{fbcblue}{271.3}{q: \zh{芽孢杆菌目} Bacillales}
\lgA{fbcblue}{287.6}{r: \zh{芽孢杆菌纲} Bacilli}
\lgA{fbcblue}{303.8}{s: \zh{厚壁菌门} Firmicutes}
\lgA{bcgreen}{320.1}{t: \zh{芽单胞菌属} \textit{Gemmatimonas}}
\lgA{bcgreen}{336.3}{u: \zh{芽单胞菌科} Gemmatimonadaceae}
\lgA{bcgreen}{352.5}{v: \zh{芽单胞菌目} Gemmatimonadales}
\lgA{bcgreen}{368.8}{w: \zh{芽单胞菌纲} Gemmatimonadetes}
\lgA{bcgreen}{385}{x: \zh{芽单胞菌门}Gemmatimonadetes}
\lgA{ckred}{401.3}{y: \zh{黄色杆菌科} Xanthobacteraceae}
\lgA{ckred}{417.5}{z: DA111}
\lgA{bcgreen}{433.7}{a0: \zh{鞘脂单胞菌属} \textit{Sphingomonas}}
\lgA{bcgreen}{450}{a1: \zh{鞘脂单胞菌科} Sphingomonadaceae}
\lgA{bcgreen}{466.2}{a2: \zh{鞘脂单胞菌目} Sphingomonadales}
\lgA{bcgreen}{482.5}{a3: \zh{亚硝化单胞菌科} Nitrosomonadaceae}
\lgA{bcgreen}{498.7}{a4: \zh{亚硝化单胞菌目} Nitrosomonadales}
\lgA{bcgreen}{514.9}{a5: δ-\zh{变形菌纲} Deltaproteobacteria}
\lgA{bcgreen}{531.2}{a6: \textit{Mizugakiibacter}}
\lgA{fbcblue}{547.4}{a7: \zh{酸杆菌属} \textit{Acidibacter}}
\lgA{fbcblue}{563.7}{a8: \zh{黄单胞菌目的科} Xanthomonadales Incertae Sedis}
\lgA{fbcblue}{579.9}{a9: \zh{黄单胞菌目} Xanthomonadales}
\lgA{fbcblue}{596.1}{b0: γ-\zh{变形菌纲} Gammaproteobacteria}
\lgA{bcgreen}{612.4}{b1: TM7 \zh{门} Saccharibacteria}

\lgB{fbcblue}{812.6}{a: \zh{链格孢属} \textit{Alternaria}}
\lgB{ckred}{835.1}{b: \textit{Latorua caligans}}
\lgB{ckred}{857.6}{c: \textit{Latorua}}
\lgB{ckred}{880.2}{d: \zh{格孢腔菌目} Pleosporales}
\lgB{ckred}{902.7}{e: \zh{座囊菌纲} Dothideomycetes}
\lgB{fbcblue}{925.2}{f: \zh{隐窝青霉菌} \textit{Penicillium cryptum}}
\lgB{fbcblue}{947.7}{g: \zh{青霉属} \textit{Penicillium}}
\lgB{fbcblue}{970.2}{h: \zh{曲霉科} Aspergillaceae}
\lgB{bcgreen}{992.8}{i: \zh{小囊菌目} Microascales}
\lgB{ckred}{1015.3}{j: \textit{Gymnopus}}
\lgB{ckred}{1037.8}{k:\zh{光茸菌科} Omphalotaceae}
\lgB{fbcblue}{1060.3}{l: \zh{被孢霉目} Mortierellales}
\lgB{fbcblue}{1082.9}{m: \zh{被孢霉纲} Mortierellomycetes}
\lgB{fbcblue}{1105.4}{n: \zh{被孢霉门} Mortierellomycota}
\end{scope}
\end{tikzpicture}
\end{document}
